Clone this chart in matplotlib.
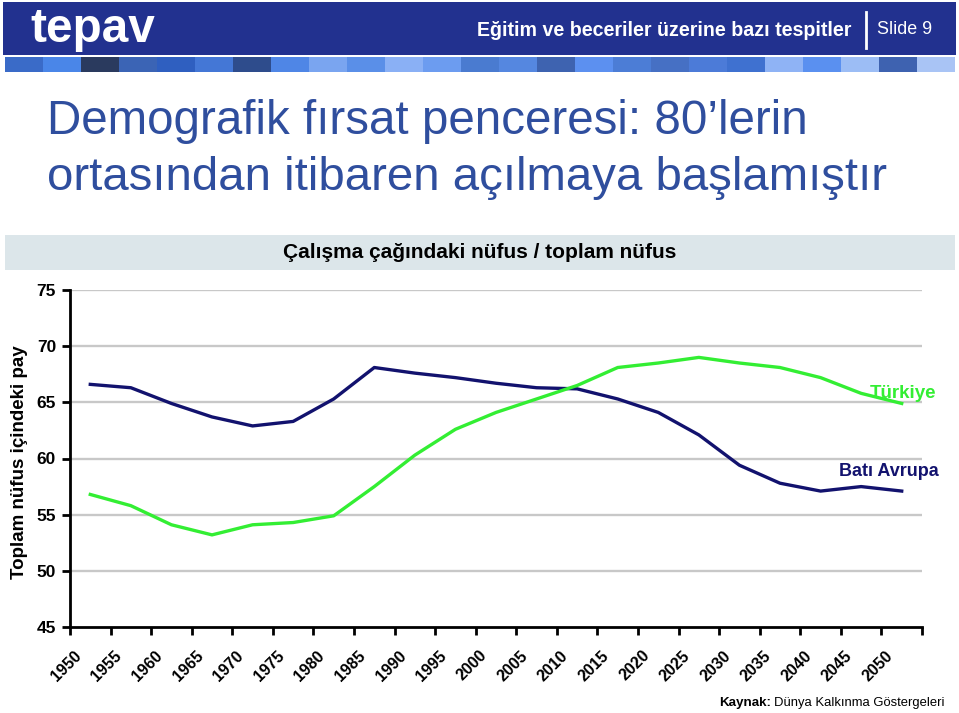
import matplotlib
matplotlib.use("Agg")
import matplotlib.pyplot as plt
import matplotlib.transforms as mtransforms
from matplotlib.patches import Rectangle

years = ["1950", "1955", "1960", "1965", "1970", "1975", "1980", "1985", "1990", "1995", "2000",
         "2005", "2010", "2015", "2020", "2025", "2030", "2035", "2040", "2045", "2050"]
bati_avrupa = [66.6, 66.3, 64.9, 63.7, 62.9, 63.3, 65.3, 68.1, 67.6, 67.2, 66.7,
               66.3, 66.2, 65.3, 64.1, 62.1, 59.4, 57.8, 57.1, 57.5, 57.1]
turkiye = [56.8, 55.8, 54.1, 53.2, 54.1, 54.3, 54.9, 57.5, 60.3, 62.6, 64.1,
           65.3, 66.5, 68.1, 68.5, 69.0, 68.5, 68.1, 67.2, 65.8, 64.9]
y_ticks = [45, 50, 55, 60, 65, 70, 75]

FONT = ['Liberation Sans', 'DejaVu Sans']
plt.rcParams['font.family'] = FONT

W, H = 959, 713
fig = plt.figure(figsize=(W / 100, H / 100), dpi=100)
fig.patch.set_facecolor('white')
renderer = fig.canvas.get_renderer()

def fx(px):
    return px / W

def fy(py):
    return 1 - py / H

def fit(t, width_px):
    """Scale font size so the text spans width_px pixels."""
    w = t.get_window_extent(renderer=renderer).width
    t.set_fontsize(t.get_fontsize() * width_px / w)
    return t

# Header banner
fig.patches.append(Rectangle((fx(3), fy(55)), fx(953), 53 / H, transform=fig.transFigure,
                             facecolor='#22318F', edgecolor='none', zorder=0))
fit(fig.text(fx(30), fy(30), 'tepav', color='white', fontsize=34, fontweight='bold',
             va='center', ha='left'), 125)
fit(fig.text(fx(851), fy(30), 'Eğitim ve beceriler üzerine bazı tespitler', color='white',
             fontsize=13, fontweight='bold', va='center', ha='right'), 374)
fig.lines.append(plt.Line2D([fx(866), fx(866)], [fy(12), fy(48)], transform=fig.transFigure,
                            color='white', lw=2))
fit(fig.text(fx(877), fy(30), 'Slide 9', color='white', fontsize=13,
             va='center', ha='left'), 55)

# Colored squares strip
sq_colors = ['#3A6BC8', '#4A86E8', '#2A3A5E', '#3B64B5', '#2F5FC0', '#4477D6', '#2E4C8C',
             '#4F86E6', '#7AA5F0', '#5A8FE8', '#8AB0F5', '#6C9CF0', '#4A7BD0', '#5587E0',
             '#3E63B0', '#5C90F0', '#4C7DD6', '#4670C4', '#4C7BD8', '#3F71D0', '#8FB3F5',
             '#5A90F0', '#9CBDF5', '#3E62B0', '#A9C4F5']
sw = 950 / len(sq_colors)
for i, c in enumerate(sq_colors):
    fig.patches.append(Rectangle((fx(5 + i * sw), fy(72)), fx(sw), 15 / H,
                                 transform=fig.transFigure, facecolor=c, edgecolor='none'))

# Title
title_col = '#2F4E9E'
fit(fig.text(fx(47), fy(121), 'Demografik fırsat penceresi: 80’lerin', color=title_col,
             fontsize=36, va='center', ha='left'), 761)
fit(fig.text(fx(47), fy(178), 'ortasından itibaren açılmaya başlamıştır', color=title_col,
             fontsize=36, va='center', ha='left'), 840)

# Chart header band
fig.patches.append(Rectangle((fx(5), fy(270)), fx(950), 35 / H, transform=fig.transFigure,
                             facecolor='#DCE6EA', edgecolor='none'))
fit(fig.text(fx(480), fy(253), 'Çalışma çağındaki nüfus / toplam nüfus', color='black',
             fontsize=14, fontweight='bold', va='center', ha='center'), 395)

# Axes
ax = fig.add_axes([fx(70), fy(627), fx(922 - 70), (627 - 290) / H])
ax.set_facecolor('none')
x = list(range(len(years)))
ax.set_xlim(-0.5, len(years) - 0.5)
ax.set_ylim(45, 75)
for v in y_ticks[1:]:
    ax.axhline(v, color='#C8C8C8', lw=1.7, zorder=1)
ax.plot(x, bati_avrupa, color='#12126E', lw=2.4, zorder=3)
ax.plot(x, turkiye, color='#33EE33', lw=2.4, zorder=3)

for s in ['top', 'right']:
    ax.spines[s].set_visible(False)
for s in ['left', 'bottom']:
    ax.spines[s].set_linewidth(2)
    ax.spines[s].set_color('black')

ax.set_yticks(y_ticks)
ax.set_yticklabels([str(v) for v in y_ticks], fontsize=12.5, fontweight='bold')
ax.tick_params(axis='y', direction='out', length=6, width=2, pad=4)

ax.set_xticks([i - 0.5 for i in range(len(years) + 1)])
ax.set_xticklabels([])
ax.tick_params(axis='x', which='major', direction='out', length=6, width=2)
ax.set_xticks(x, minor=True)
ax.set_xticklabels(years, minor=True, rotation=45, ha='right', va='top',
                   fontsize=11.5, fontweight='bold')
ax.tick_params(axis='x', which='minor', length=0, pad=15)
offset = mtransforms.ScaledTranslation(-6 / 100, 0, fig.dpi_scale_trans)
for lab in ax.get_xticklabels(minor=True):
    lab.set_transform(lab.get_transform() + offset)

ax.set_ylabel('Toplam nüfus içindeki pay', fontsize=13.5, fontweight='bold')
ax.yaxis.set_label_coords(-0.049, 0.49)

ax.text(19.2, 65.8, 'Türkiye', color='#33EE33', fontsize=13.5, fontweight='bold',
        va='center', ha='left', zorder=4)
ax.text(18.45, 58.8, 'Batı Avrupa', color='#12126E', fontsize=13, fontweight='bold',
        va='center', ha='left', zorder=4)

k1 = fig.text(fx(719), fy(703), 'Kaynak:', fontsize=10.5, fontweight='bold', va='center', ha='left')
fit(k1, 52)
k2 = fig.text(fx(774), fy(703), 'Dünya Kalkınma Göstergeleri', fontsize=10.5, va='center', ha='left')
fit(k2, 172)

fig.savefig('out.png', dpi=100)
